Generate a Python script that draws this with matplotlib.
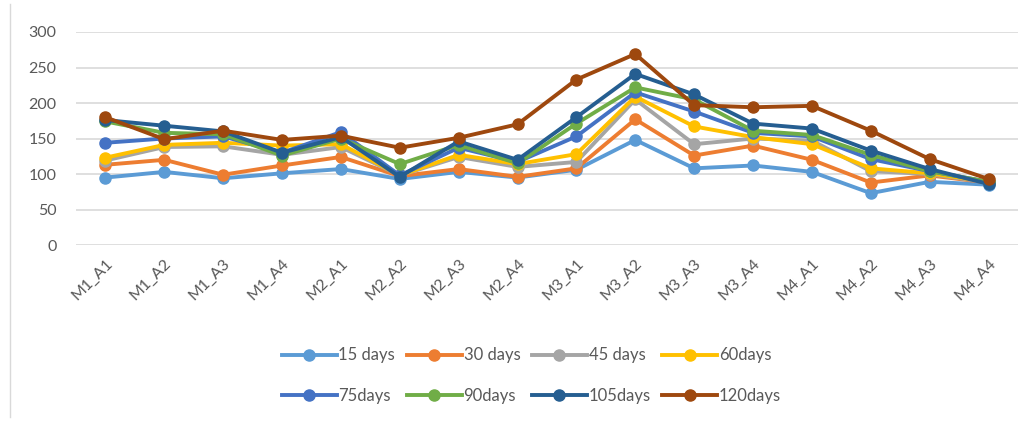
import matplotlib.pyplot as plt
from matplotlib.lines import Line2D

categories = ["M1_A1", "M1_A2", "M1_A3", "M1_A4", "M2_A1", "M2_A2", "M2_A3", "M2_A4",
              "M3_A1", "M3_A2", "M3_A3", "M3_A4", "M4_A1", "M4_A2", "M4_A3", "M4_A4"]

d15 = [95, 103, 94, 101, 107, 93, 103, 95, 106, 148, 108, 112, 103, 73, 89, 85]
d30 = [113, 120, 99, 112, 124, 97, 107, 96, 108, 177, 126, 140, 120, 88, 98, 88]
d45 = [119, 138, 139, 127, 138, 98, 124, 110, 117, 205, 142, 150, 147, 104, 100, 88]
d60 = [123, 141, 144, 140, 142, 98, 127, 114, 128, 209, 167, 152, 142, 108, 101, 89]
d75 = [144, 150, 153, 130, 159, 98, 137, 117, 153, 215, 188, 158, 153, 121, 104, 89]
d90 = [174, 158, 156, 126, 150, 114, 141, 115, 171, 222, 205, 161, 155, 127, 104, 89]
d105 = [176, 168, 160, 130, 152, 96, 146, 120, 180, 241, 212, 171, 164, 133, 107, 86]
d120 = [180, 149, 161, 148, 154, 137, 151, 170, 233, 269, 197, 194, 196, 161, 121, 93]

series = [
    ("15 days", d15, "#5B9BD5"),
    ("30 days", d30, "#ED7D31"),
    ("45 days", d45, "#A5A5A5"),
    ("60days", d60, "#FFC000"),
    ("75days", d75, "#4472C4"),
    ("90days", d90, "#70AD47"),
    ("105days", d105, "#255E91"),
    ("120days", d120, "#9E480E"),
]

plt.rcParams["font.family"] = ["Lato", "DejaVu Sans"]
txt = "#595959"

fig = plt.figure(figsize=(10.32, 4.21), dpi=100)
ax = fig.add_axes([0.0736, 0.418, 0.9128, 0.506])

x = list(range(len(categories)))
handles = []
for label, vals, color in series:
    h, = ax.plot(x, vals, color=color, lw=2.8, marker="o", ms=8, label=label,
                 solid_joinstyle="round")
    handles.append(h)

ax.set_xlim(-0.5, len(categories) - 0.5)
ax.set_ylim(0, 300)
ax.set_yticks(range(0, 301, 50))
ax.set_xticks(x)
ax.set_xticklabels(categories, rotation=45, ha="right", rotation_mode="anchor")
ax.tick_params(axis="both", length=0, colors=txt, labelsize=11.5)
ax.tick_params(axis="y", pad=14)
ax.tick_params(axis="x", pad=8)
ax.grid(axis="y", color="#D9D9D9", lw=1.2)
ax.set_axisbelow(True)
for s in ax.spines.values():
    s.set_visible(False)

# legend fills by column, so interleave to get row-wise order
order = [0, 4, 1, 5, 2, 6, 3, 7]
leg = fig.legend([handles[i] for i in order], [series[i][0] for i in order],
                 loc="center", bbox_to_anchor=(0.515, 0.108), ncol=4, frameon=False,
                 fontsize=12, handlelength=3.3, handletextpad=0.1, columnspacing=0.7,
                 labelspacing=1.45, labelcolor=txt)

fig.add_artist(Line2D([0.01, 0.01], [0.01, 0.99], transform=fig.transFigure,
                      color="#D9D9D9", lw=1))

fig.savefig("out.png", dpi=100)
